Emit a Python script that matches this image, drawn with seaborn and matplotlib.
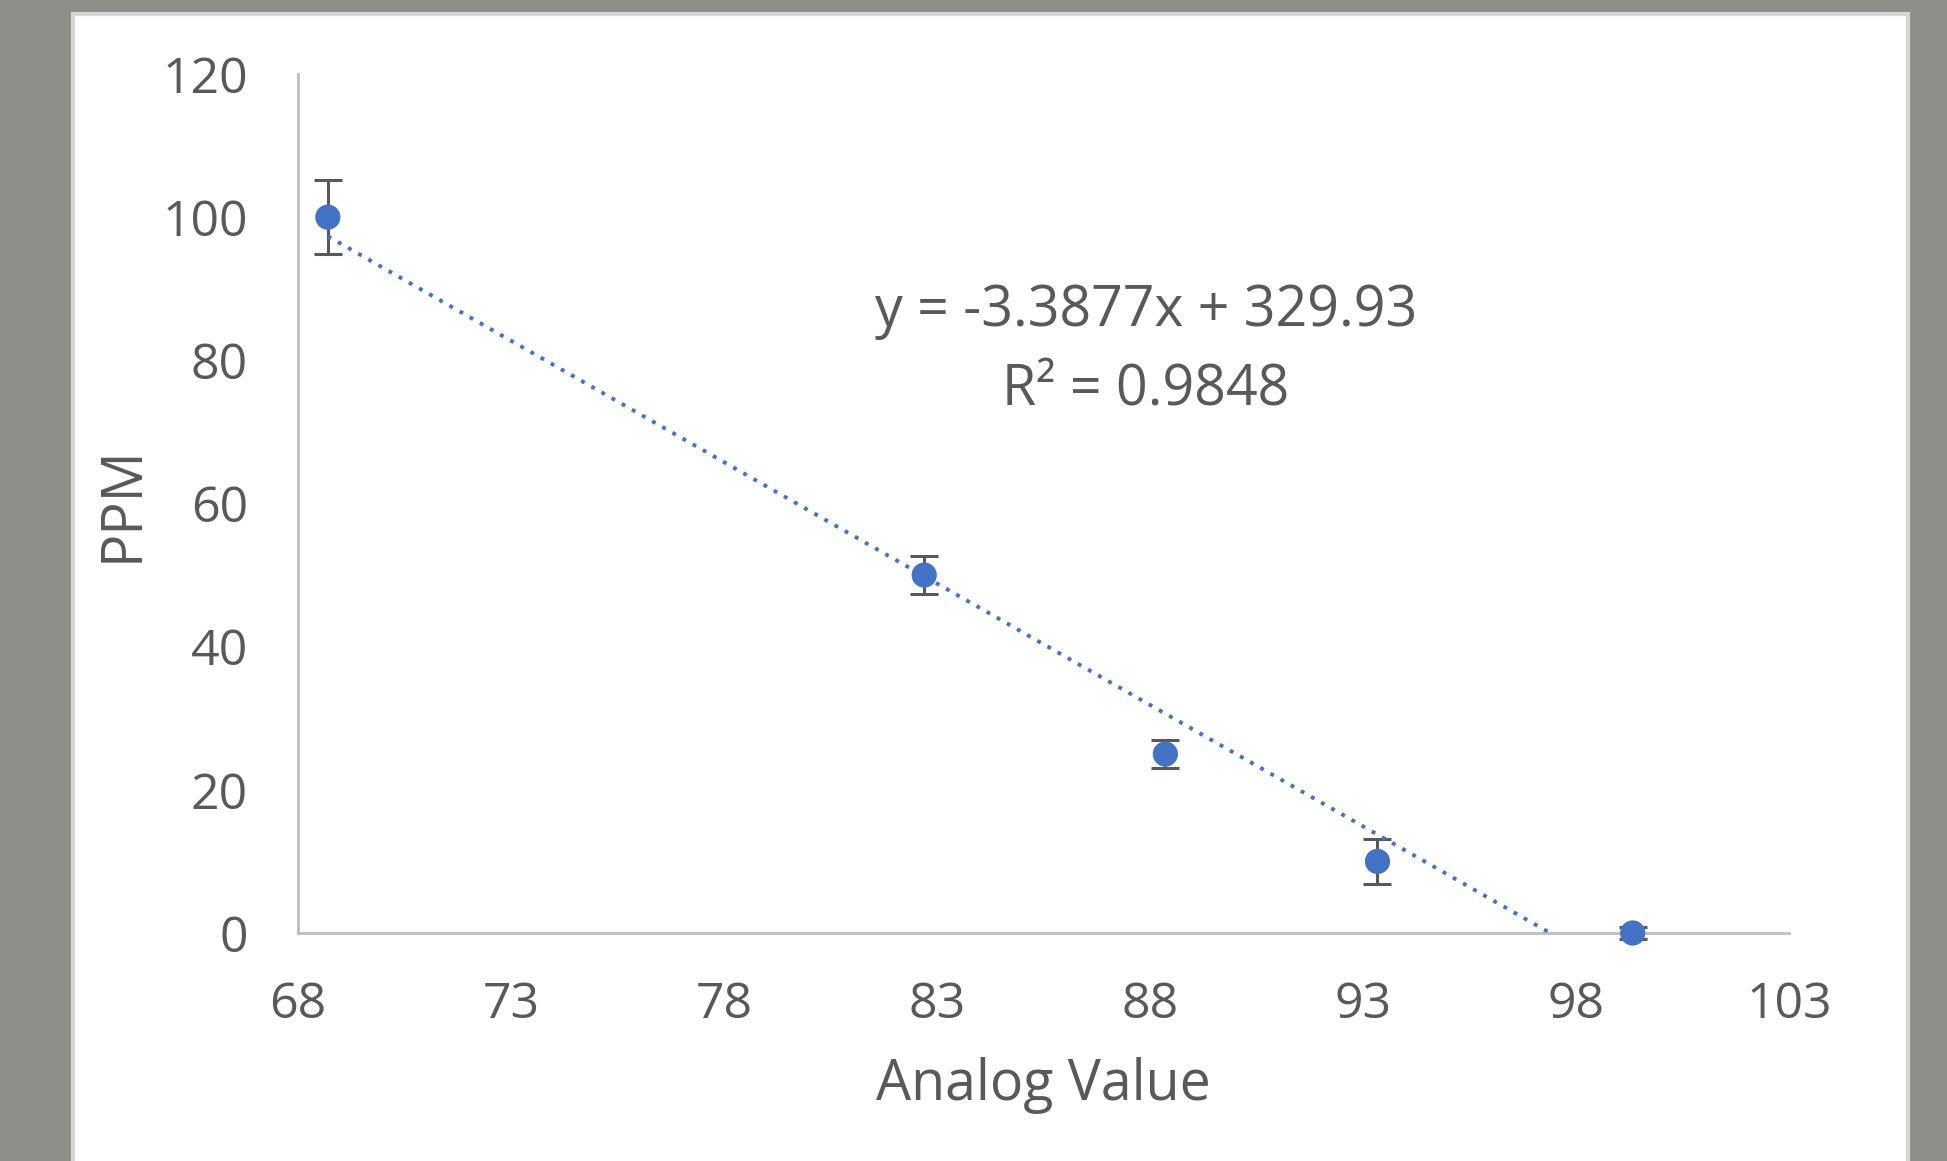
import numpy as np
import pandas as pd
import matplotlib
matplotlib.use("Agg")
import matplotlib.pyplot as plt
import seaborn as sns
from matplotlib.patches import Rectangle

# calibration readings
analog_value = [68.7, 82.7, 88.36, 93.34, 99.33]
ppm = [100, 50, 25, 10, 0]
ppm_err = [5.2, 2.6, 1.9, 3.1, 0.9]
x_ticks = [68, 73, 78, 83, 88, 93, 98, 103]
y_ticks = [0, 20, 40, 60, 80, 100, 120]
eq_text = "y = -3.3877x + 329.93\nR² = 0.9848"

BLUE = "#4472C4"
GREY_TXT = "#595959"
df = pd.DataFrame({"Analog Value": analog_value, "PPM": ppm, "err": ppm_err})

sns.set_theme(style="white")
plt.rcParams["font.family"] = ["Open Sans", "DejaVu Sans"]

fig = plt.figure(figsize=(19.47, 11.61), dpi=100)
fig.patch.set_facecolor("#8E8E88")
# white chart area with thin border
fig.patches.append(Rectangle((73 / 1947, -0.01), (1908 - 73) / 1947, 1 - 14 / 1161 + 0.01,
                             transform=fig.transFigure, facecolor="white",
                             edgecolor="#D6D6D6", linewidth=3, zorder=-10))

ax = fig.add_axes([298 / 1947, 1 - 933 / 1161, (1789 - 298) / 1947, (933 - 74) / 1161])
ax.set_facecolor("white")

ax.errorbar(df["Analog Value"], df["PPM"], yerr=df["err"], fmt="none",
            ecolor=GREY_TXT, elinewidth=2.2, capsize=10, capthick=2.2, zorder=2,
            clip_on=False)
sns.scatterplot(data=df, x="Analog Value", y="PPM", color=BLUE, s=330,
                edgecolor="none", zorder=3, clip_on=False, ax=ax)
sns.regplot(data=df, x="Analog Value", y="PPM", scatter=False, ci=None, truncate=True,
            color=BLUE, line_kws={"linewidth": 2.8, "linestyle": (0, (1, 2.0)), "zorder": 4},
            ax=ax)

ax.text(87.9, 81.3, eq_text, ha="center", va="center", fontsize=40, color=GREY_TXT,
        linespacing=1.52)

ax.set_xlim(68, 103)
ax.set_ylim(0, 120)
ax.set_xticks(x_ticks)
ax.set_yticks(y_ticks)
ax.tick_params(axis="both", length=0, labelsize=36, labelcolor=GREY_TXT)
ax.tick_params(axis="y", pad=36)
ax.tick_params(axis="x", pad=34)
ax.set_xlabel("Analog Value", fontsize=40, color=GREY_TXT, labelpad=20)
ax.set_ylabel("PPM", fontsize=40, color=GREY_TXT, labelpad=8)
for side in ["top", "right"]:
    ax.spines[side].set_visible(False)
for side in ["left", "bottom"]:
    ax.spines[side].set_color("#BFBFBF")
    ax.spines[side].set_linewidth(2)

fig.savefig("out.png", dpi=100, facecolor=fig.get_facecolor())
